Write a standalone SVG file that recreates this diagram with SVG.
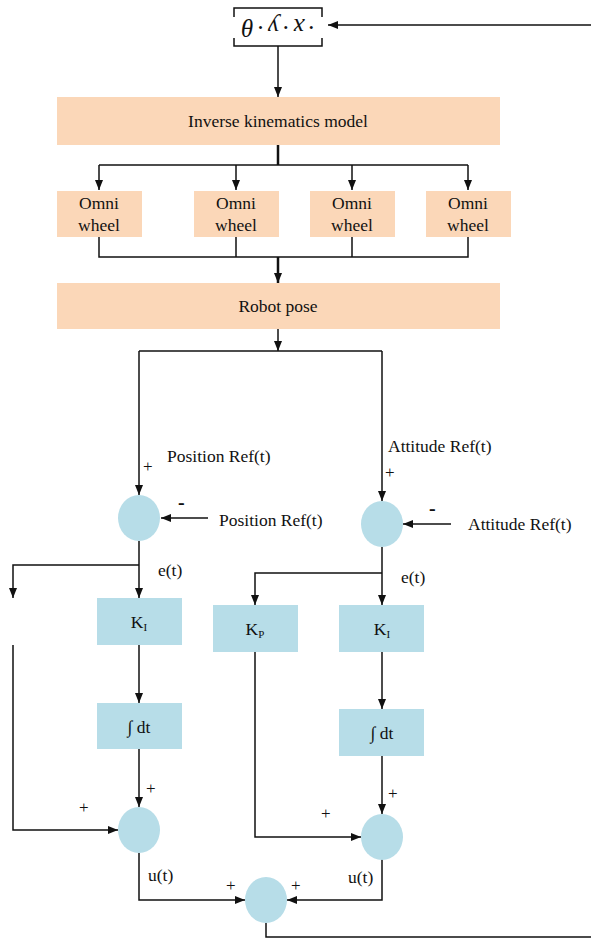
<svg xmlns="http://www.w3.org/2000/svg" width="591" height="938" viewBox="0 0 591 938">
<style>
.t{font-family:"Liberation Serif","Times New Roman",serif;font-size:17.5px;fill:#111}
.c{text-anchor:middle}
.p{font-size:17px}
.m{font-size:20px;font-weight:bold}
.rot{font-size:25px;font-style:italic;letter-spacing:4px}
.sub{font-size:11px}
.peach{fill:#FBD7B8}
.blue{fill:#B7DDE8}
.ln{fill:none;stroke:#111;stroke-width:1.5}
.thk{stroke-width:2.5}
</style>
<defs>
<marker id="ah" viewBox="0 0 10 8" refX="10" refY="4" markerWidth="10" markerHeight="8" markerUnits="userSpaceOnUse" orient="auto">
<path d="M0,0 L10,4 L0,8 z" fill="#111"/>
</marker>
</defs>
<rect width="591" height="938" fill="#fff"/>

<g id="connectors">
<path class="ln" d="M591,25 H328" marker-end="url(#ah)"/>
<path class="ln" d="M278,46 V97" marker-end="url(#ah)"/>
<path class="ln thk" d="M278,145 V165"/>
<path class="ln" d="M99,165 H468"/>
<path class="ln" d="M99,165 V190" marker-end="url(#ah)"/>
<path class="ln" d="M236,165 V190" marker-end="url(#ah)"/>
<path class="ln" d="M352,165 V190" marker-end="url(#ah)"/>
<path class="ln" d="M468,165 V190" marker-end="url(#ah)"/>
<path class="ln" d="M99,237 V257 H468 V237 M236,237 V257 M352,237 V257"/>
<path class="ln thk" d="M278,257 V283" marker-end="url(#ah)"/>
<path class="ln" d="M278,329 V351" marker-end="url(#ah)"/>
<path class="ln" d="M139,351 H382"/>
<path class="ln" d="M139,351 V495" marker-end="url(#ah)"/>
<path class="ln" d="M382,351 V501" marker-end="url(#ah)"/>
<path class="ln" d="M208,518 H161" marker-end="url(#ah)"/>
<path class="ln" d="M451,524 H403" marker-end="url(#ah)"/>
<path class="ln" d="M139,541 V598" marker-end="url(#ah)"/>
<path class="ln" d="M139,565 H13 V598" marker-end="url(#ah)"/>
<path class="ln" d="M13,645 V830 H118" marker-end="url(#ah)"/>
<path class="ln" d="M139,645 V703" marker-end="url(#ah)"/>
<path class="ln" d="M139,749 V807" marker-end="url(#ah)"/>
<path class="ln" d="M382,547 V605" marker-end="url(#ah)"/>
<path class="ln" d="M382,573 H255 V605" marker-end="url(#ah)"/>
<path class="ln" d="M382,652 V709" marker-end="url(#ah)"/>
<path class="ln" d="M382,756 V814" marker-end="url(#ah)"/>
<path class="ln" d="M255,652 V837 H361" marker-end="url(#ah)"/>
<path class="ln" d="M139,853 V900 H245" marker-end="url(#ah)"/>
<path class="ln" d="M382,859 V900 H287" marker-end="url(#ah)"/>
<path class="ln" d="M266,923 V937 H591"/>
</g>

<g id="state">
<path class="ln" d="M234,17 V8 H322 V17 M234,38 V46 H322 V38"/>
<text class="t c rot" x="280" y="35" transform="rotate(180 278 27)">·x·y·θ</text>
</g>

<g id="ik">
<rect class="peach" x="57" y="97" width="443" height="48"/>
<text class="t c" x="278" y="127">Inverse kinematics model</text>
</g>

<g id="wheel1"><rect class="peach" x="57" y="191" width="85" height="46"/>
<text class="t c" x="99" y="209">Omni</text><text class="t c" x="99" y="231">wheel</text></g>
<g id="wheel2"><rect class="peach" x="194" y="191" width="85" height="46"/>
<text class="t c" x="236" y="209">Omni</text><text class="t c" x="236" y="231">wheel</text></g>
<g id="wheel3"><rect class="peach" x="310" y="191" width="85" height="46"/>
<text class="t c" x="352" y="209">Omni</text><text class="t c" x="352" y="231">wheel</text></g>
<g id="wheel4"><rect class="peach" x="426" y="191" width="85" height="46"/>
<text class="t c" x="468" y="209">Omni</text><text class="t c" x="468" y="231">wheel</text></g>

<g id="pose">
<rect class="peach" x="57" y="283" width="443" height="46"/>
<text class="t c" x="278" y="312">Robot pose</text>
</g>

<g id="labels">
<text class="t" x="167" y="462">Position Ref(t)</text>
<text class="t p" x="143" y="472">+</text>
<text class="t m" x="178" y="509">-</text>
<text class="t" x="219" y="526">Position Ref(t)</text>
<text class="t" x="158" y="576">e(t)</text>
<text class="t" x="388" y="452">Attitude Ref(t)</text>
<text class="t p" x="385" y="478">+</text>
<text class="t m" x="429" y="515">-</text>
<text class="t" x="468" y="530">Attitude Ref(t)</text>
<text class="t" x="401" y="583">e(t)</text>
<text class="t p" x="146" y="794">+</text>
<text class="t p" x="79" y="813">+</text>
<text class="t p" x="388" y="799">+</text>
<text class="t p" x="321" y="819">+</text>
<text class="t" x="148" y="881">u(t)</text>
<text class="t" x="348" y="883">u(t)</text>
<text class="t p" x="226" y="891">+</text>
<text class="t p" x="291" y="891">+</text>
</g>

<g id="sum1"><ellipse class="blue" cx="139" cy="518" rx="21" ry="23"/></g>
<g id="sum2"><ellipse class="blue" cx="382" cy="524" rx="21" ry="23"/></g>

<g id="ki1"><rect class="blue" x="97" y="598" width="85" height="47"/>
<text class="t c" x="139" y="628">K<tspan class="sub" dy="3">I</tspan></text></g>
<g id="kp"><rect class="blue" x="213" y="605" width="85" height="47"/>
<text class="t c" x="255" y="635">K<tspan class="sub" dy="3">P</tspan></text></g>
<g id="ki2"><rect class="blue" x="339" y="605" width="85" height="47"/>
<text class="t c" x="382" y="635">K<tspan class="sub" dy="3">I</tspan></text></g>

<g id="int1"><rect class="blue" x="97" y="703" width="85" height="46"/>
<text class="t c" x="139" y="733">∫ dt</text></g>
<g id="int2"><rect class="blue" x="339" y="709" width="85" height="47"/>
<text class="t c" x="382" y="739">∫ dt</text></g>

<g id="sum3"><ellipse class="blue" cx="139" cy="830" rx="21" ry="23"/></g>
<g id="sum4"><ellipse class="blue" cx="382" cy="837" rx="21" ry="23"/></g>
<g id="sum5"><ellipse class="blue" cx="266" cy="900" rx="21" ry="23"/></g>
</svg>
